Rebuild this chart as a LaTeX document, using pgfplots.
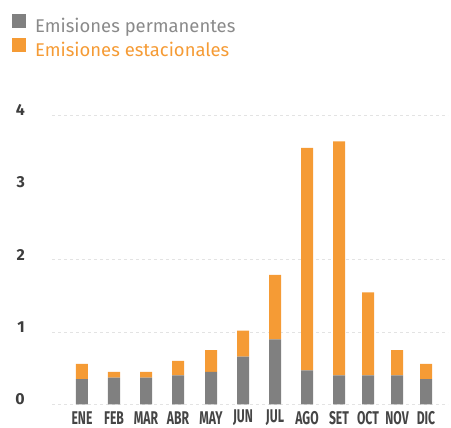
\documentclass[border=0pt]{standalone}
\usepackage{pgfplots}
\pgfplotsset{compat=1.18}
\usepackage{fontspec}
\setmainfont{Fira Sans}
\usepackage{graphicx}
\definecolor{permgray}{HTML}{808080}
\definecolor{seaorange}{HTML}{F59B35}
\definecolor{ylab}{HTML}{3D3D3D}
\definecolor{xlab}{HTML}{454545}
\definecolor{gridc}{HTML}{E3E3E3}
\definecolor{legperm}{HTML}{8A8A8A}
\newcommand{\cx}[1]{\scalebox{0.66}[1]{#1}}
\begin{document}
\begin{tikzpicture}
\useasboundingbox (-52bp,-23.7bp) rectangle (399bp,404.3bp);
\begin{axis}[
  at={(0,0)}, anchor=south west,
  scale only axis, width=396bp, height=289bp,
  ybar stacked, bar width=12bp,
  xmin=52, xmax=448, ymin=0, ymax=4,
  axis line style={draw=none},
  major tick length=0pt,
  /pgf/number format/assume math mode=true,
  xtick={82,114,146,178,211,243,275,307,339,368,397,426},
  xticklabels={\cx{ENE},\cx{FEB},\cx{MAR},\cx{ABR},\cx{MAY},\cx{JUN},\cx{JUL},\cx{AGO},\cx{SET},\cx{OCT},\cx{NOV},\cx{DIC}},
  ytick={0,1,2,3,4},
  extra y ticks={0,1,2,4},
  extra y tick labels={},
  extra y tick style={grid=major, major grid style={gridc, dash pattern=on 3bp off 3bp, line width=0.9bp}},
  yticklabel style={font=\bfseries\fontsize{16}{16}\selectfont, color=ylab, anchor=east, inner sep=0pt, xshift=-27bp, yshift=5bp},
  xticklabel style={font=\bfseries\fontsize{18.5}{18.5}\selectfont, color=xlab, anchor=center, inner sep=0pt, yshift=-13.5bp},
  legend style={at={(axis description cs:-0.101,1.3505)}, anchor=north west, draw=none, fill=none, inner sep=0pt,
    nodes={inner sep=0pt}, font=\fontsize{18.5}{18.5}\selectfont, row sep=4bp,
    /tikz/every odd column/.style={column sep=9bp}},
  legend cell align=left,
]
\addplot+[fill=permgray, draw=none, legend image code/.code={\fill[permgray] (0bp,-2bp) rectangle (14bp,12bp);}]
  coordinates {(82,0.35) (114,0.37) (146,0.37) (178,0.40) (211,0.45) (243,0.66) (275,0.90) (307,0.47) (339,0.40) (368,0.40) (397,0.40) (426,0.35)};
\addlegendentry{\textcolor{legperm}{Emisiones permanentes\vphantom{Ep}}}
\addplot+[fill=seaorange, draw=none, legend image code/.code={\fill[seaorange] (0bp,-2bp) rectangle (14bp,12bp);}]
  coordinates {(82,0.21) (114,0.08) (146,0.08) (178,0.20) (211,0.30) (243,0.36) (275,0.89) (307,3.08) (339,3.24) (368,1.15) (397,0.35) (426,0.21)};
\addlegendentry{\textcolor{seaorange}{Emisiones estacionales\vphantom{Ep}}}
\end{axis}
\end{tikzpicture}
\end{document}
